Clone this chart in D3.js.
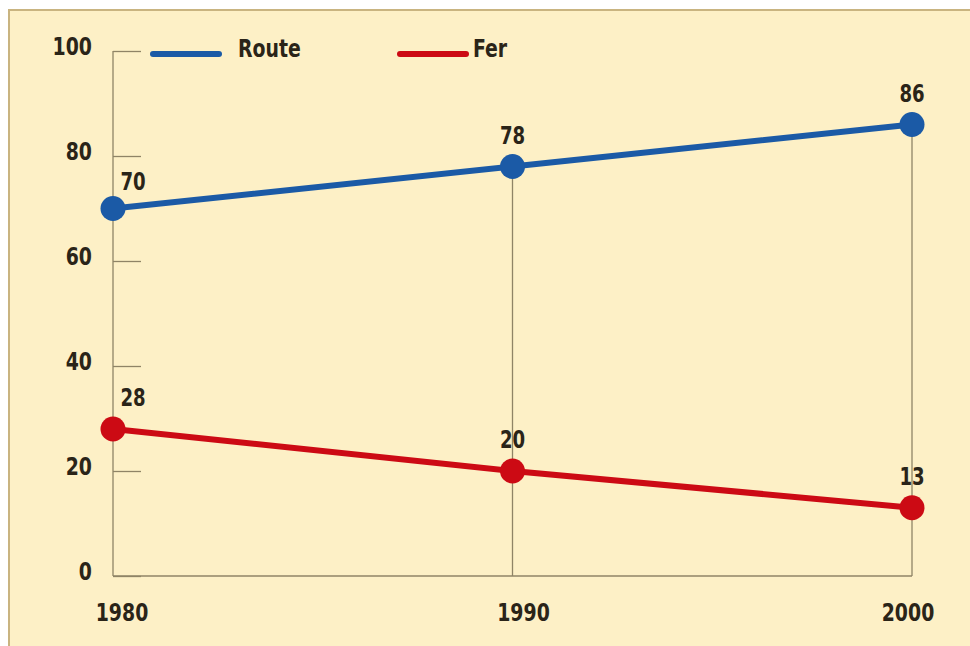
<!DOCTYPE html>
<html><head><meta charset="utf-8">
<script src="https://cdn.jsdelivr.net/npm/d3@7"></script>
<style>
html,body{margin:0;padding:0;background:#fff;}
svg{display:block;}
text{font-family:"Liberation Sans Narrow","DejaVu Sans Condensed","Roboto",sans-serif;font-weight:bold;fill:#2a2418;}
</style></head>
<body>
<svg id="chart" width="970" height="646"></svg>
<script>
const years = [1980, 1990, 2000];
const routeValues = [70, 78, 86];
const ferValues = [28, 20, 13];
const yTicks = [0, 20, 40, 60, 80, 100];
const seriesNames = ["Route", "Fer"];
const seriesColors = ["#1b5aa6", "#cc0a14"];

const SX = 0.84;
const svg = d3.select("#chart");
svg.append("rect").attr("x", 9).attr("y", 10).attr("width", 975).attr("height", 645)
  .attr("fill", "#fdf0c6").attr("stroke", "#c9b480").attr("stroke-width", 2);

const x = d3.scalePoint().domain(years).range([113, 912]);
const y = d3.scaleLinear().domain([0, 100]).range([576, 51]);
const axisColor = "#8f8466";

function label(tx, ty, str, size, anchor) {
  svg.append("text").attr("transform", `translate(${tx},${ty}) scale(${SX},1)`)
    .attr("text-anchor", anchor).attr("font-size", size).text(str);
}

// y axis line
svg.append("line").attr("x1", x(1980)).attr("x2", x(1980)).attr("y1", y(100)).attr("y2", y(0))
  .attr("stroke", axisColor).attr("stroke-width", 1.3);
// baseline
svg.append("line").attr("x1", x(1980)).attr("x2", x(2000)).attr("y1", y(0)).attr("y2", y(0))
  .attr("stroke", axisColor).attr("stroke-width", 1.3);
// ticks
const yAxis = d3.axisRight(y).tickValues(yTicks).tickSize(28).tickFormat("");
const gy = svg.append("g").attr("transform", `translate(${x(1980)},0)`).call(yAxis);
gy.select(".domain").remove();
gy.selectAll(".tick line").attr("stroke", axisColor).attr("stroke-width", 1.3);
// tick labels
yTicks.forEach(d => label(92, y(d) + 4, d, 25, "end"));

// vertical drop lines at 1990, 2000
years.slice(1).forEach((yr, i) => {
  svg.append("line").attr("x1", x(yr)).attr("x2", x(yr))
    .attr("y1", y(routeValues[i + 1])).attr("y2", y(0))
    .attr("stroke", axisColor).attr("stroke-width", 1.3);
});

// x labels
const xOff = [9, 11, -4];
years.forEach((d, i) => label(x(d) + xOff[i], 621, d, 25, "middle"));

const series = [routeValues, ferValues];
const line = d3.line().x((d, i) => x(years[i])).y(d => y(d));
series.forEach((vals, s) => {
  svg.append("path").datum(vals).attr("d", line).attr("fill", "none")
    .attr("stroke", seriesColors[s]).attr("stroke-width", 6).attr("stroke-linecap", "round");
  svg.selectAll(".pt" + s).data(vals).enter().append("circle")
    .attr("cx", (d, i) => x(years[i])).attr("cy", d => y(d)).attr("r", 12.5)
    .attr("fill", seriesColors[s]);
  vals.forEach((d, i) => label(x(years[i]) + (i === 0 ? 20 : 0),
    y(d) - (i === 0 && s === 0 ? 19 : 23), d, 24, "middle"));
});

// legend
const legX = [153, 400];
seriesNames.forEach((n, s) => {
  svg.append("line").attr("x1", legX[s]).attr("x2", legX[s] + 66).attr("y1", 54).attr("y2", 54)
    .attr("stroke", seriesColors[s]).attr("stroke-width", 6).attr("stroke-linecap", "round");
  label(legX[s] + (s === 0 ? 85 : 73), 57, n, 25, "start");
});
</script>
</body></html>
